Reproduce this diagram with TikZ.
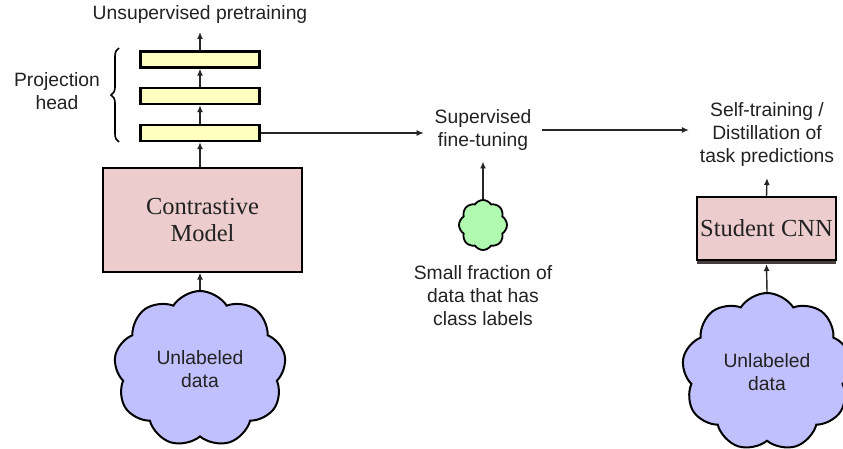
\documentclass[tikz,border=0pt]{standalone}
\usepackage{fontspec}
\setmainfont{Liberation Serif}
\setsansfont{Liberation Sans}
\usetikzlibrary{shapes.symbols,arrows.meta,decorations.pathreplacing}
\definecolor{ybox}{RGB}{255,255,192}
\definecolor{pbox}{RGB}{236,204,204}
\definecolor{bcloud}{RGB}{192,192,255}
\definecolor{gcloud}{RGB}{176,250,176}
\definecolor{txt}{RGB}{34,34,34}
\begin{document}
\begin{tikzpicture}[x=1pt,y=-1pt,
  font=\sffamily\fontsize{19.3}{23}\selectfont, text=txt,
  lbl/.style={inner sep=0pt, outer sep=9pt, align=center},
  layer/.style={draw, line width=2.3pt, fill=ybox, minimum width=119pt, minimum height=16pt, inner sep=0pt},
  model/.style={draw, line width=1.3pt, fill=pbox, inner sep=0pt, align=center,
     font=\rmfamily\fontsize{24.5}{27}\selectfont},
  cloudy/.style={cloud, draw, line width=2pt, cloud puffs=9, cloud puff arc=115, aspect=1, inner sep=0pt, align=center},
  arr/.style={draw=black!85, line width=1.4pt, -{Latex[length=7pt,width=6pt]}}]
\useasboundingbox (0,0) rectangle (843,449);
\clip (0,0) rectangle (843,449);
\fill[white] (0,0) rectangle (843,449);

% left column
\node[lbl, outer sep=8pt] (title) at (200,15) {Unsupervised pretraining};
\node[layer] (b1) at (200,59.5) {};
\node[layer] (b2) at (200,96) {};
\node[layer] (b3) at (200,133) {};
\node[lbl] (ph) at (57,91.5) {Projection\\head};
\coordinate (brtop) at (119,48);
\coordinate (brbot) at (119,142);
\draw[line width=1.6pt, decorate, decoration={brace, amplitude=8pt}] (brbot) -- (brtop);
\node[model, minimum width=199pt, minimum height=104pt] (cm) at (202.5,220) {Contrastive\\Model};
\node[cloudy, fill=bcloud, minimum width=172pt, minimum height=156pt] (c1) at (200,369) {Unlabeled\\data};

\draw[arr] (b1.north) -- (title.south);
\draw[arr] (b2.north) -- (b1.south);
\draw[arr] (b3.north) -- (b2.south);
\draw[arr] (cm.north -| b3.south) -- (b3.south);
\draw[arr] (c1.north) -- (cm.south -| c1.north);

% middle column
\node[lbl, outer sep=11pt] (sft) at (483,130) {Supervised\\fine-tuning};
\node[cloudy, fill=gcloud, cloud puffs=8, line width=1.8pt, minimum width=48pt, minimum height=50pt] (gc) at (483,225) {};
\node[lbl] (sf) at (483,296) {Small fraction of\\data that has\\class labels};
\draw[arr] (gc.north) -- (sft.south);
\draw[arr] (b3.east) -- (b3.east -| sft.west);

% right column
\node[lbl, outer sep=11pt] (st) at (767,135) {Self-training /\\Distillation of\\task predictions};
\fill[black!70!pbox] (697,259) rectangle (836,264);
\node[model, minimum width=139pt, minimum height=63pt] (sc) at (766.5,228.5) {Student CNN};
\node[cloudy, fill=bcloud, minimum width=170pt, minimum height=158pt] (c2) at (767,372) {Unlabeled\\data};
\draw[arr] (sft.east) -- (sft.east -| st.west);
\draw[arr] (sc.north) -- (st.south);
\draw[arr] (c2.north) -- (sc.south |- 0,264);
\end{tikzpicture}
\end{document}
